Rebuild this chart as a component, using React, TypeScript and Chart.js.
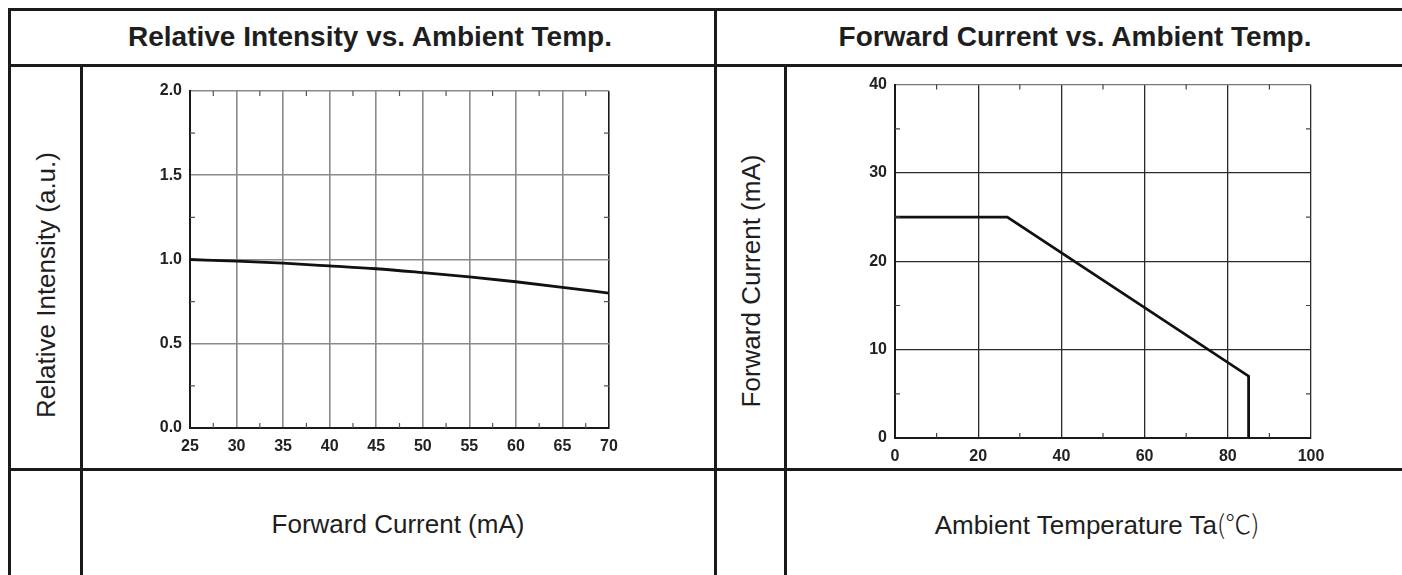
import React, { useEffect, useRef } from "react";
import { Chart, registerables } from "chart.js";

Chart.register(...registerables);

// ---- data ----
const currentMA = [25, 30, 35, 40, 45, 50, 55, 60, 65, 70];
const relIntensity = [1.0, 0.99, 0.978, 0.962, 0.945, 0.922, 0.897, 0.868, 0.835, 0.8];
const intensityTicks = [0, 0.5, 1.0, 1.5, 2.0];
const currentTicks = [25, 30, 35, 40, 45, 50, 55, 60, 65, 70];

const ambientTemp = [0, 27, 85, 85];
const forwardCurrent = [25, 25, 7, 0];
const tempTicks = [0, 20, 40, 60, 80, 100];
const forwardTicks = [0, 10, 20, 30, 40];

const LINE = "#1a1a1a";
const FONT = '"Liberation Sans", Arial, Helvetica, sans-serif';

function makeMinorTicks(color: string, width: number, len: number) {
  return {
    id: "minorTicks",
    afterDraw(chart: any) {
      const { ctx, chartArea: a } = chart;
      ctx.save();
      ctx.strokeStyle = color;
      ctx.lineWidth = width;
      ["x", "y"].forEach((id) => {
        const s = chart.scales[id];
        const t = s.ticks;
        for (let i = 0; i < t.length - 1; i++) {
          const mid = (t[i].value + t[i + 1].value) / 2;
          const p = s.getPixelForValue(mid);
          ctx.beginPath();
          if (id === "x") {
            ctx.moveTo(p, a.bottom);
            ctx.lineTo(p, a.bottom - len);
            ctx.moveTo(p, a.top);
            ctx.lineTo(p, a.top + len);
          } else {
            ctx.moveTo(a.left, p);
            ctx.lineTo(a.left + len, p);
            ctx.moveTo(a.right, p);
            ctx.lineTo(a.right - len, p);
          }
          ctx.stroke();
        }
      });
      ctx.restore();
    },
  };
}

const tickFont = { family: FONT, size: 16, weight: "bold" as const };

function LeftChart() {
  const ref = useRef<HTMLCanvasElement>(null);
  useEffect(() => {
    const chart = new Chart(ref.current!, {
      type: "line",
      data: {
        datasets: [
          {
            data: currentMA.map((x, i) => ({ x, y: relIntensity[i] })),
            borderColor: "#111",
            borderWidth: 2.8,
            pointRadius: 0,
            cubicInterpolationMode: "monotone",
            fill: false,
          },
        ],
      },
      options: {
        animation: false,
        responsive: false,
        maintainAspectRatio: false,
        layout: { padding: { left: 0, right: 105, top: 24, bottom: 0 } },
        plugins: { legend: { display: false }, tooltip: { enabled: false } },
        scales: {
          x: {
            type: "linear",
            min: 25,
            max: 70,
            afterBuildTicks: (s: any) => {
              s.ticks = currentTicks.map((v) => ({ value: v }));
            },
            afterFit: (s: any) => {
              s.height = 40;
            },
            grid: {
              drawTicks: false,
              lineWidth: 1.6,
              color: (c: any) =>
                c.index === currentTicks.length - 1 ? "#1a1a1a" : "#8a8a8a",
            },
            border: { color: "#1a1a1a", width: 2 },
            ticks: {
              font: tickFont,
              color: "#222",
              padding: 9,
              maxRotation: 0,
              autoSkip: false,
              callback: (v: any) => String(v),
            },
          },
          y: {
            type: "linear",
            min: 0,
            max: 2,
            afterBuildTicks: (s: any) => {
              s.ticks = intensityTicks.map((v) => ({ value: v }));
            },
            afterFit: (s: any) => {
              s.width = 107;
            },
            grid: { drawTicks: false, lineWidth: 1.6, color: "#8a8a8a" },
            border: { color: "#1a1a1a", width: 2 },
            ticks: {
              font: tickFont,
              color: "#222",
              padding: 8,
              callback: (v: any) => Number(v).toFixed(1),
            },
          },
        },
      },
      plugins: [makeMinorTicks("#555", 1.2, 5)],
    } as any);
    return () => chart.destroy();
  }, []);
  return (
    <canvas
      ref={ref}
      width={631}
      height={401}
      style={{ position: "absolute", left: 83, top: 67, width: 631, height: 401 }}
    />
  );
}

function RightChart() {
  const ref = useRef<HTMLCanvasElement>(null);
  useEffect(() => {
    const chart = new Chart(ref.current!, {
      type: "line",
      data: {
        datasets: [
          {
            data: ambientTemp.map((x, i) => ({ x, y: forwardCurrent[i] })),
            borderColor: "#111",
            borderWidth: 2.8,
            pointRadius: 0,
            tension: 0,
            fill: false,
          },
        ],
      },
      options: {
        animation: false,
        responsive: false,
        maintainAspectRatio: false,
        layout: { padding: { left: 0, right: 91, top: 12, bottom: 0 } },
        plugins: { legend: { display: false }, tooltip: { enabled: false } },
        scales: {
          x: {
            type: "linear",
            min: 0,
            max: 100,
            afterBuildTicks: (s: any) => {
              s.ticks = tempTicks.map((v) => ({ value: v }));
            },
            afterFit: (s: any) => {
              s.height = 30;
            },
            grid: {
              drawTicks: false,
              lineWidth: 1.3,
              color: "#2a2a2a",
            },
            border: { color: "#1a1a1a", width: 2 },
            ticks: {
              font: tickFont,
              color: "#222",
              padding: 9,
              maxRotation: 0,
              autoSkip: false,
              callback: (v: any) => String(v),
            },
          },
          y: {
            type: "linear",
            min: 0,
            max: 40,
            afterBuildTicks: (s: any) => {
              s.ticks = forwardTicks.map((v) => ({ value: v }));
            },
            afterFit: (s: any) => {
              s.width = 108;
            },
            grid: {
              drawTicks: false,
              lineWidth: 1.3,
              color: (c: any) =>
                c.index === forwardTicks.length - 1 ? "#777" : "#2a2a2a",
            },
            border: { color: "#1a1a1a", width: 2 },
            ticks: {
              font: tickFont,
              color: "#222",
              padding: 8,
              callback: (v: any) => String(v),
            },
          },
        },
      },
      plugins: [makeMinorTicks("#444", 1.2, 5)],
    } as any);
    return () => chart.destroy();
  }, []);
  return (
    <canvas
      ref={ref}
      width={615}
      height={401}
      style={{ position: "absolute", left: 787, top: 67, width: 615, height: 401 }}
    />
  );
}

function HLine({ top, left }: { top: number; left: number }) {
  return (
    <div
      style={{ position: "absolute", top, left, right: 0, height: 3, background: LINE }}
    />
  );
}
function VLine({ top, left }: { top: number; left: number }) {
  return (
    <div
      style={{ position: "absolute", top, left, bottom: 0, width: 3, background: LINE }}
    />
  );
}

function CenterText({
  x,
  y,
  size,
  bold,
  rotate,
  children,
}: {
  x: number;
  y: number;
  size: number;
  bold?: boolean;
  rotate?: boolean;
  children: any;
}) {
  return (
    <div
      style={{
        position: "absolute",
        left: x,
        top: y,
        transform: `translate(-50%, -50%)${rotate ? " rotate(-90deg)" : ""}`,
        whiteSpace: "nowrap",
        fontSize: size,
        fontWeight: bold ? "bold" : "normal",
        lineHeight: 1,
        color: "#1e1e1e",
      }}
    >
      {children}
    </div>
  );
}

export default function App() {
  return (
    <div
      style={{
        position: "fixed",
        inset: 0,
        overflow: "hidden",
        background: "#fff",
        fontFamily: FONT,
      }}
    >
      <LeftChart />
      <RightChart />
      <HLine top={8} left={8} />
      <HLine top={64} left={8} />
      <HLine top={468} left={8} />
      <VLine top={8} left={8} />
      <VLine top={64} left={80} />
      <VLine top={8} left={714} />
      <VLine top={64} left={784} />
      <CenterText x={370} y={37} size={28} bold>
        Relative Intensity vs. Ambient Temp.
      </CenterText>
      <CenterText x={1075} y={37} size={28} bold>
        Forward Current vs. Ambient Temp.
      </CenterText>
      <CenterText x={46} y={285} size={26} rotate>
        Relative Intensity (a.u.)
      </CenterText>
      <CenterText x={751} y={281} size={26} rotate>
        Forward Current (mA)
      </CenterText>
      <CenterText x={398} y={524} size={26}>
        Forward Current (mA)
      </CenterText>
      <CenterText x={1097} y={524} size={26}>
        Ambient Temperature Ta
        <span style={{ fontFamily: '"Noto Sans CJK SC", "DejaVu Sans", sans-serif', fontWeight: 300 }}>
          (℃)
        </span>
      </CenterText>
    </div>
  );
}
